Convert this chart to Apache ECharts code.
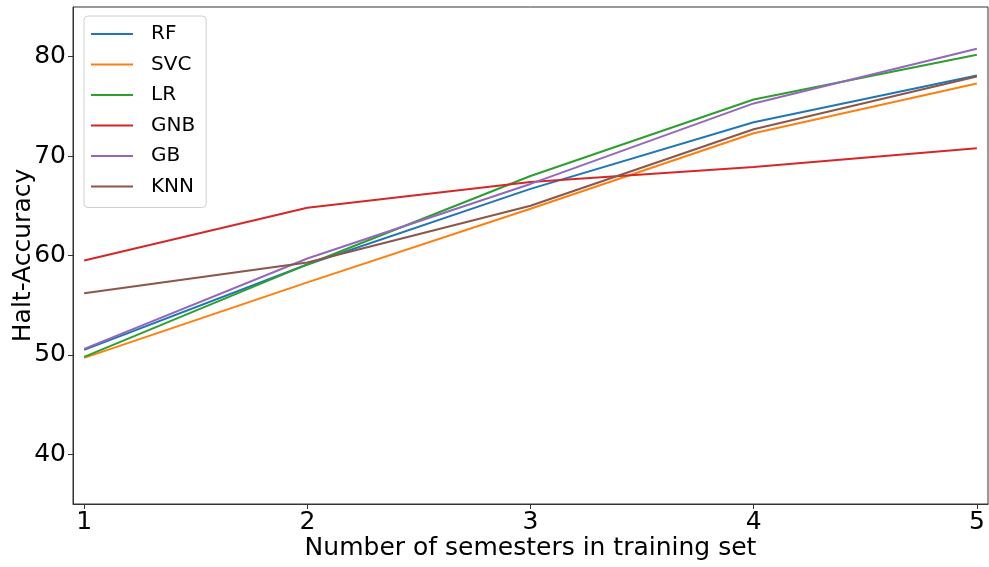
<!DOCTYPE html>
<html>
<head>
<meta charset="utf-8">
<script src="https://cdn.jsdelivr.net/npm/echarts@6/dist/echarts.min.js"></script>
<style>
  html, body { margin: 0; padding: 0; background: #fff; }
  #chart { width: 989px; height: 567px; }
</style>
</head>
<body>
<div id="chart"></div>
<script>
// Number of semesters used for training
const semesters = [1, 2, 3, 4, 5];

// Halt-accuracy per classifier
const rf  = [50.5, 59.1, 66.7, 73.4, 78.1];
const svc = [49.7, 57.3, 64.7, 72.3, 77.3];
const lr  = [49.8, 59.1, 68.0, 75.7, 80.2];
const gnb = [59.5, 64.8, 67.4, 68.9, 70.8];
const gb  = [50.6, 59.7, 67.2, 75.3, 80.8];
const knn = [56.2, 59.3, 65.0, 72.7, 78.0];

const seriesNames = ['RF', 'SVC', 'LR', 'GNB', 'GB', 'KNN'];
const seriesValues = [rf, svc, lr, gnb, gb, knn];
const colors = ['#1f77b4', '#ff7f0e', '#2ca02c', '#d62728', '#9467bd', '#8c564b'];

const xTicks = [1, 2, 3, 4, 5];
const yTicks = [40, 50, 60, 70, 80];

const font = 'DejaVu Sans';
const chart = echarts.init(document.getElementById('chart'), null, { renderer: 'canvas' });

chart.setOption({
  animation: false,
  color: colors,
  grid: {
    left: 73, right: 1, top: 7, bottom: 63,
    outerBoundsMode: 'none',
    containLabel: false,
    show: true, borderColor: '#333', borderWidth: 1
  },
  legend: {
    orient: 'vertical',
    left: 84,
    top: 16,
    padding: [8, 11, 11, 7],
    icon: 'rect',
    itemWidth: 42,
    itemHeight: 2,
    itemGap: 10.5,
    borderColor: '#d0d0d0',
    borderWidth: 1,
    borderRadius: 4,
    backgroundColor: 'rgba(255,255,255,0.8)',
    textStyle: { fontFamily: font, fontSize: 20, color: '#000', lineHeight: 20, padding: [0, 0, 0, 13] },
    data: seriesNames
  },
  xAxis: {
    type: 'value',
    min: 0.95,
    max: 5.05,
    name: 'Number of semesters in training set',
    nameLocation: 'middle',
    nameGap: 32,
    nameMoveOverlap: false,
    nameTextStyle: { fontFamily: font, fontSize: 25, color: '#000' },
    axisLine: { show: true, onZero: false, lineStyle: { color: '#333', width: 1 } },
    axisTick: { show: true, inside: false, length: 5, lineStyle: { color: '#333' }, customValues: xTicks },
    axisLabel: { fontFamily: font, fontSize: 25, color: '#000', margin: 6, customValues: xTicks },
    splitLine: { show: false }
  },
  yAxis: {
    type: 'value',
    min: 35,
    max: 85,
    name: 'Halt-Accuracy',
    nameLocation: 'middle',
    nameGap: 37,
    nameMoveOverlap: false,
    nameRotate: 90,
    nameTextStyle: { fontFamily: font, fontSize: 25, color: '#000' },
    axisLine: { show: true, lineStyle: { color: '#333', width: 1 } },
    axisTick: { show: true, inside: false, length: 5, lineStyle: { color: '#333' }, customValues: yTicks },
    axisLabel: { fontFamily: font, fontSize: 25, color: '#000', margin: 7, customValues: yTicks },
    splitLine: { show: false }
  },
  series: seriesNames.map((name, i) => ({
    name: name,
    type: 'line',
    symbol: 'none',
    lineStyle: { width: 2 },
    data: semesters.map((s, j) => [s, seriesValues[i][j]])
  }))
});
</script>
</body>
</html>
